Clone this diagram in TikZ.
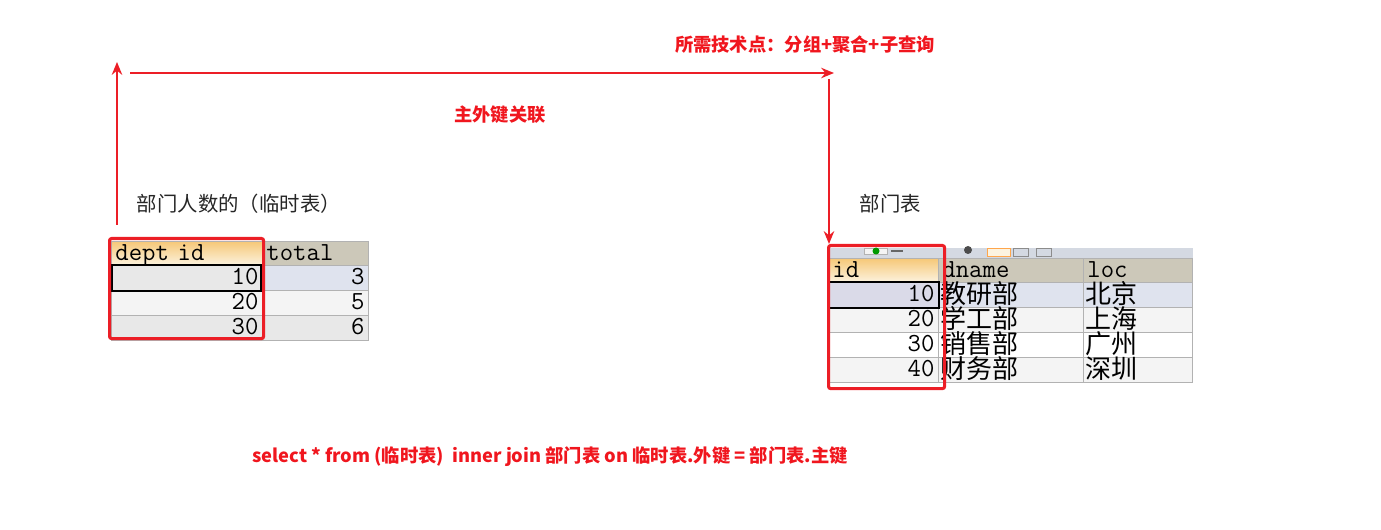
\documentclass[tikz,border=0pt]{standalone}
\usepackage{fontspec}
\setmainfont{Liberation Serif}
\newfontfamily\cjk{Noto Sans CJK SC}
\newcommand\cellfont{\ttfamily\fontsize{18.5}{19}\selectfont}
\newcommand\cjkcell{\cjk\fontsize{18.5}{19}\selectfont}
\usetikzlibrary{arrows.meta}
\def\px{0.025cm}

\definecolor{keyred}{RGB}{236,30,38}
\definecolor{txtred}{RGB}{240,22,30}
\definecolor{gridgray}{RGB}{178,178,178}
\definecolor{hdrtop}{RGB}{246,200,120}
\definecolor{hdrbot}{RGB}{252,243,224}
\definecolor{hdrtan}{RGB}{204,200,185}
\definecolor{rowblue}{RGB}{223,227,238}
\definecolor{rowlav}{RGB}{218,218,232}
\definecolor{rowgray}{RGB}{232,232,232}
\definecolor{rowlight}{RGB}{244,244,244}
\definecolor{barblue}{RGB}{212,217,226}

\begin{document}
\begin{tikzpicture}[x=0.025cm, y=-0.025cm,
  cell/.style={draw=gridgray, line width=0.6pt, anchor=north west,
               inner xsep=4*\px, inner ysep=0pt, font=\cellfont,
               text height=0.475cm, text depth=0.15cm},
  colw/.style={text width=#1},
  hdr/.style={cell, top color=hdrtop, bottom color=hdrbot, align=left,
              text height=0.475cm, text depth=0.125cm},
  hdrg/.style={cell, fill=hdrtan, align=left,
               text height=0.475cm, text depth=0.125cm},
  num/.style={cell, align=right, fill=#1},
  txt/.style={cell, align=left, fill=#1, font=\cjkcell, inner xsep=2*\px,
              text height=0.525cm, text depth=0.1cm},
  selbox/.style={draw=black, line width=1.4pt},
  redbox/.style={draw=keyred, line width=2.2pt, rounded corners=1.5pt,
                 anchor=north west, inner sep=0pt},
  arr/.style={->, >={Stealth[length=3.2mm, width=2.6mm]}, draw=keyred, line width=1.6pt},
  redlbl/.style={font=\cjk\bfseries\fontsize{13}{15}\selectfont, text=txtred},
  tablecap/.style={font=\cjk\fontsize{14.5}{16}\selectfont, text=black!85, anchor=west}
]
  \useasboundingbox (0,0) rectangle (1381,530);

  % Textes en rouge
  \node[redlbl] (skills) at (805,45) {所需技术点：分组+聚合+子查询};
  \node[redlbl] (fkLink) at (500,115) {主外键关联};
  \node[redlbl] (sqlLine) at (550,457)
    {select * from (临时表)\ \ inner join 部门表 on 临时表.外键 = 部门表.主键};

  % Légendes des tables
  \node[tablecap] (tmpCap) at (132,204) {部门人数的（临时表）};
  \node[tablecap] (dptCap) at (855,204) {部门表};

  % Table temporaire
  \node[hdr, colw=3.575cm]     (tmpH1) at (111,241) {dept id};
  \node[hdrg, colw=2.45cm]     (tmpH2) at (262,241) {total};
  \node[num=rowgray, colw=3.575cm]  (tmp11) at (111,265) {10};
  \node[num=rowblue, colw=2.45cm]   (tmp12) at (262,265) {3};
  \node[num=rowlight, colw=3.575cm] (tmp21) at (111,290) {20};
  \node[num=rowlight, colw=2.45cm]  (tmp22) at (262,290) {5};
  \node[num=rowgray, colw=3.575cm]  (tmp31) at (111,315) {30};
  \node[num=rowgray, colw=2.45cm]   (tmp32) at (262,315) {6};
  \draw[selbox] ([xshift=1*\px]tmp11.north west) rectangle ([xshift=-2*\px]tmp11.south east);

  % Table des départements
  \node[draw=none, fill=barblue, anchor=north west, inner sep=0pt,
        minimum width=9.125cm, minimum height=0.25cm] (dptBar) at (828,248) {};
  \fill[rowlight, draw=gridgray] (864,248) rectangle (887,254);
  \fill[green!60!black] (876,251) circle (3.5*\px);
  \fill[black!60] (891,250) rectangle (903,252);
  \fill[black!70] (968,250) circle (4*\px);
  \draw[orange!70, fill=hdrbot] (987,248) rectangle (1010,256);
  \draw[black!45] (1013,248) rectangle (1028,256);
  \draw[black!45] (1036,248) rectangle (1051,256);
  \node[hdr, colw=2.55cm]   (dptH1) at (828,258)  {id};
  \node[hdrg, colw=3.425cm] (dptH2) at (938,258)  {dname};
  \node[hdrg, colw=2.525cm] (dptH3) at (1083,258) {loc};
  \node[num=rowlav, colw=2.55cm]    (dpt11) at (828,282)  {10};
  \node[txt=rowblue, colw=3.525cm]  (dpt12) at (938,282)  {教研部};
  \node[txt=rowblue, colw=2.625cm]  (dpt13) at (1083,282) {北京};
  \node[num=rowlight, colw=2.55cm]  (dpt21) at (828,307)  {20};
  \node[txt=rowlight, colw=3.525cm] (dpt22) at (938,307)  {学工部};
  \node[txt=rowlight, colw=2.625cm] (dpt23) at (1083,307) {上海};
  \node[num=white, colw=2.55cm]     (dpt31) at (828,332)  {30};
  \node[txt=white, colw=3.525cm]    (dpt32) at (938,332)  {销售部};
  \node[txt=white, colw=2.625cm]    (dpt33) at (1083,332) {广州};
  \node[num=rowlight, colw=2.55cm]  (dpt41) at (828,357)  {40};
  \node[txt=rowlight, colw=3.525cm] (dpt42) at (938,357)  {财务部};
  \node[txt=rowlight, colw=2.625cm] (dpt43) at (1083,357) {深圳};
  \draw[selbox] (dpt11.north west) rectangle (dpt11.south east);

  % Cadres des clés
  \node[redbox, minimum width=3.85cm, minimum height=2.5cm]  (keyTmp) at (108,237) {};
  \node[redbox, minimum width=2.9cm, minimum height=3.575cm] (keyDpt) at (827,244) {};

  % Flèches de liaison
  \coordinate (upFoot) at (117,225);
  \coordinate (upTip) at (117,62);
  \coordinate (topFoot) at (130,73);
  \coordinate (topTip) at (834,73);
  \coordinate (downFoot) at (829,79);
  \draw[arr] (upFoot) -- (upTip);
  \draw[arr] (topFoot) -- (topTip);
  \draw[arr] (downFoot) -- (downFoot |- keyDpt.north);
\end{tikzpicture}
\end{document}
